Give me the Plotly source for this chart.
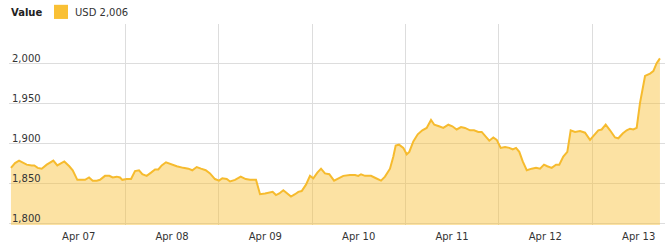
import plotly.graph_objects as go

times = [
    "2023-04-06 18:35", "2023-04-06 19:38", "2023-04-06 20:40", "2023-04-06 21:37", "2023-04-06 22:38",
    "2023-04-06 23:55", "2023-04-07 00:35", "2023-04-07 01:28", "2023-04-07 02:30", "2023-04-07 03:47",
    "2023-04-07 04:38", "2023-04-07 05:29", "2023-04-07 06:30", "2023-04-07 07:23", "2023-04-07 08:18",
    "2023-04-07 09:35", "2023-04-07 10:28", "2023-04-07 11:39", "2023-04-07 12:47", "2023-04-07 13:38",
    "2023-04-07 14:40", "2023-04-07 15:37", "2023-04-07 16:38", "2023-04-07 17:29", "2023-04-07 18:46",
    "2023-04-07 19:53", "2023-04-07 20:45", "2023-04-07 21:47", "2023-04-07 22:38", "2023-04-07 23:13",
    "2023-04-08 00:21", "2023-04-08 01:28", "2023-04-08 02:29", "2023-04-08 03:31", "2023-04-08 04:22",
    "2023-04-08 05:29", "2023-04-08 06:36", "2023-04-08 07:38", "2023-04-08 08:29", "2023-04-08 09:21",
    "2023-04-08 10:27", "2023-04-08 11:29", "2023-04-08 13:13", "2023-04-08 14:54", "2023-04-08 16:12",
    "2023-04-08 17:13", "2023-04-08 18:21", "2023-04-08 19:27", "2023-04-08 20:40", "2023-04-08 21:46",
    "2023-04-08 23:03", "2023-04-09 00:05", "2023-04-09 00:56", "2023-04-09 02:04", "2023-04-09 02:55",
    "2023-04-09 04:12", "2023-04-09 05:40", "2023-04-09 06:57", "2023-04-09 08:03", "2023-04-09 09:36",
    "2023-04-09 10:38", "2023-04-09 11:55", "2023-04-09 13:12", "2023-04-09 13:53", "2023-04-09 14:44",
    "2023-04-09 15:35", "2023-04-09 16:37", "2023-04-09 17:29", "2023-04-09 18:36", "2023-04-09 19:38",
    "2023-04-09 20:29", "2023-04-09 21:21", "2023-04-09 22:27", "2023-04-09 23:29", "2023-04-10 00:20",
    "2023-04-10 01:22", "2023-04-10 02:19", "2023-04-10 03:20", "2023-04-10 04:27", "2023-04-10 05:40",
    "2023-04-10 06:46", "2023-04-10 08:03", "2023-04-10 09:46", "2023-04-10 11:04", "2023-04-10 11:54",
    "2023-04-10 12:36", "2023-04-10 13:38", "2023-04-10 15:10", "2023-04-10 16:27", "2023-04-10 17:45",
    "2023-04-10 18:46", "2023-04-10 20:03", "2023-04-10 20:54", "2023-04-10 21:31", "2023-04-10 22:22",
    "2023-04-10 23:29", "2023-04-11 00:21", "2023-04-11 01:01", "2023-04-11 02:03", "2023-04-11 03:11",
    "2023-04-11 04:22", "2023-04-11 05:29", "2023-04-11 06:36", "2023-04-11 07:27", "2023-04-11 08:39",
    "2023-04-11 09:46", "2023-04-11 11:03", "2023-04-11 12:05", "2023-04-11 13:12", "2023-04-11 14:19",
    "2023-04-11 15:20", "2023-04-11 16:38", "2023-04-11 17:40", "2023-04-11 18:46", "2023-04-11 19:38",
    "2023-04-11 20:45", "2023-04-11 21:35", "2023-04-11 22:37", "2023-04-11 23:30", "2023-04-12 00:31",
    "2023-04-12 01:38", "2023-04-12 02:44", "2023-04-12 03:37", "2023-04-12 04:28", "2023-04-12 05:18",
    "2023-04-12 06:11", "2023-04-12 07:13", "2023-04-12 08:30", "2023-04-12 09:36", "2023-04-12 10:38",
    "2023-04-12 11:39", "2023-04-12 12:30", "2023-04-12 13:38", "2023-04-12 14:45", "2023-04-12 15:35",
    "2023-04-12 16:37", "2023-04-12 17:39", "2023-04-12 18:31", "2023-04-12 19:38", "2023-04-12 20:55",
    "2023-04-12 22:12", "2023-04-12 23:29", "2023-04-13 00:31", "2023-04-13 01:37", "2023-04-13 02:29",
    "2023-04-13 03:31", "2023-04-13 04:38", "2023-04-13 05:55", "2023-04-13 06:46", "2023-04-13 07:53",
    "2023-04-13 08:55", "2023-04-13 09:46", "2023-04-13 10:37", "2023-04-13 11:29", "2023-04-13 12:20",
    "2023-04-13 13:38", "2023-04-13 14:55", "2023-04-13 15:46", "2023-04-13 16:37", "2023-04-13 17:28",
]

values = [
    1869, 1875, 1878, 1876, 1873,
    1872, 1872, 1869, 1868, 1873,
    1876, 1878, 1872, 1875, 1877,
    1871, 1866, 1854, 1854, 1854,
    1857, 1853, 1853, 1854, 1859,
    1859, 1857, 1858, 1857, 1854,
    1855, 1855, 1865, 1866, 1861,
    1859, 1863, 1867, 1867, 1872,
    1876, 1874, 1871, 1869, 1868,
    1866, 1870, 1868, 1866, 1862,
    1855, 1853, 1856, 1855, 1852,
    1854, 1858, 1855, 1854, 1854,
    1836, 1837, 1838, 1839, 1835,
    1837, 1841, 1837, 1833, 1836,
    1839, 1840, 1848, 1859, 1856,
    1863, 1868, 1862, 1861, 1853,
    1856, 1859, 1860, 1860, 1859,
    1861, 1859, 1859, 1856, 1853,
    1858, 1868, 1883, 1897, 1898,
    1894, 1886, 1889, 1902, 1911,
    1916, 1919, 1929, 1923, 1921,
    1919, 1923, 1921, 1917, 1920,
    1919, 1916, 1916, 1914, 1914,
    1908, 1903, 1907, 1904, 1894,
    1895, 1894, 1892, 1894, 1889,
    1877, 1866, 1868, 1869, 1868,
    1873, 1871, 1869, 1873, 1873,
    1883, 1889, 1916, 1914, 1915,
    1913, 1904, 1910, 1916, 1917,
    1923, 1916, 1907, 1906, 1912,
    1916, 1918, 1917, 1919, 1950,
    1984, 1987, 1990, 2000, 2006,
]

series_name = "USD 2,006"
legend_title = "Value"
x_range = ["2023-04-06 18:05", "2023-04-13 18:46"]
y_range = [1797.5, 2049]

LINE = "#f6bb2e"
SWATCH = "#f9c035"
FILL = "rgba(249,190,50,0.45)"
FONT = "DejaVu Sans"

fig = go.Figure()
fig.add_trace(go.Scatter(
    x=times, y=values, mode="lines", fill="tozeroy", name=series_name,
    line=dict(color=LINE, width=2), fillcolor=FILL,
    showlegend=False, hoverinfo="skip",
))

# legend row: bold title, colour swatch, series label
fig.add_annotation(xref="paper", yref="paper", x=0.0, y=1.055, xanchor="left", yanchor="middle",
                   text="<b>" + legend_title + "</b>", showarrow=False,
                   font=dict(family=FONT, size=10, color="#222222"))
fig.add_shape(type="rect", xref="paper", yref="paper", x0=0.0686, x1=0.0899, y0=1.0251, y1=1.0955,
              fillcolor=SWATCH, line=dict(width=0))
fig.add_annotation(xref="paper", yref="paper", x=0.0976, y=1.055, xanchor="left", yanchor="middle",
                   text=series_name, showarrow=False,
                   font=dict(family=FONT, size=10, color="#333333"))

fig.update_layout(
    width=670, height=248,
    margin=dict(l=9, r=5, t=24, b=23),
    paper_bgcolor="white", plot_bgcolor="white",
    font=dict(family=FONT, size=10, color="#333333"),
    showlegend=False,
    xaxis=dict(
        type="date", range=x_range,
        tick0="2023-04-07", dtick=86400000, ticklabelmode="period",
        tickformat="%b %d", showgrid=True, gridcolor="#dddddd", gridwidth=1,
        zeroline=False, showline=False, ticks="", ticklabelstandoff=4,
        tickfont=dict(family=FONT, size=10, color="#333333"),
    ),
    yaxis=dict(
        range=y_range, dtick=50, tick0=1800, tickformat=",",
        ticklabelposition="inside", ticklabelshift=-5, ticklabelstandoff=0,
        showgrid=True, gridcolor="#dddddd", gridwidth=1,
        zeroline=False, showline=False, ticks="",
        tickfont=dict(family=FONT, size=10, color="#333333"),
    ),
)

fig.write_html("out.html")
